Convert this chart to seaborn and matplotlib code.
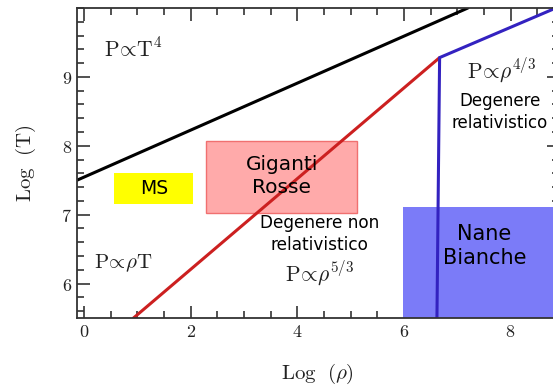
import matplotlib
matplotlib.use("Agg")
import matplotlib.pyplot as plt
from matplotlib.patches import Rectangle
from matplotlib.ticker import MultipleLocator
import seaborn as sns
import pandas as pd

# boundary lines (log rho, log T)
black_x = [-0.13, 7.2]
black_y = [7.5, 10.0]
red_x = [0.93, 6.67]
red_y = [5.5, 9.28]
blue_x = [6.62, 6.67, 8.85]
blue_y = [5.5, 9.28, 10.0]

# regions: (x0, y0, x1, y1)
ms_box = (0.57, 7.16, 2.05, 7.61)
giants_box = (2.29, 7.03, 5.13, 8.07)
wd_box = (5.98, 5.45, 9.2, 7.11)

xtick_vals = [0, 2, 4, 6, 8]
ytick_vals = [6, 7, 8, 9]

sns.set_style("ticks")
plt.rcParams["mathtext.fontset"] = "cm"
plt.rcParams["font.family"] = ["DejaVu Sans"]

fig = plt.figure(figsize=(5.53, 3.90), dpi=100)
ax = fig.add_axes([0.1392, 0.1846, 0.8708, 0.7949])

def box(b, **kw):
    ax.add_patch(Rectangle((b[0], b[1]), b[2] - b[0], b[3] - b[1], **kw))

box(ms_box, facecolor="#ffff00", edgecolor="none", zorder=1)
box(giants_box, facecolor="#ffaaaa", edgecolor="#f07070", lw=1, zorder=1)
box(wd_box, facecolor="#7b7bf8", edgecolor="none", zorder=1)

lines = [("k", black_x, black_y, "black"),
         ("r", red_x, red_y, "#cc2020"),
         ("b", blue_x, blue_y, "#3322c0")]
for name, xs, ys, c in lines:
    d = pd.DataFrame({"x": xs, "y": ys})
    sns.lineplot(data=d, x="x", y="y", sort=False, estimator=None,
                 color=c, lw=2.2, ax=ax, zorder=2)

ax.set_xlim(-0.13, 8.9)
ax.set_ylim(5.5, 10.0)
ax.set_xticks(xtick_vals)
ax.set_xticklabels([f"${v}$" for v in xtick_vals])
ax.set_yticks(ytick_vals)
ax.set_yticklabels([f"${v}$" for v in ytick_vals])
ax.xaxis.set_minor_locator(MultipleLocator(0.5))
ax.yaxis.set_minor_locator(MultipleLocator(0.2))
ax.tick_params(which="both", direction="in", top=True, right=True,
               width=1.2, color="#333333", labelsize=13, labelcolor="#222222")
ax.tick_params(which="major", length=9)
ax.tick_params(which="minor", length=5)
for s in ax.spines.values():
    s.set_linewidth(1.3)
    s.set_color("#333333")

ax.set_xlabel(r"$\mathrm{Log}\ \ (\rho)$", fontsize=15, labelpad=15,
              color="#222222")
ax.set_ylabel(r"$\mathrm{Log}\ \ (\mathrm{T})$", fontsize=15, labelpad=17,
              color="#222222")

ax.text(0.93, 9.41, r"$\mathrm{P}\!\propto\!\mathrm{T}^4$", fontsize=15.5,
        ha="center", va="center", color="#222222")
ax.text(0.74, 6.30, r"$\mathrm{P}\!\propto\!\rho\mathrm{T}$", fontsize=15,
        ha="center", va="center", color="#222222")
ax.text(4.42, 6.15, r"$\mathrm{P}\!\propto\!\rho^{5/3}$", fontsize=15.5,
        ha="center", va="center", color="#222222", zorder=4)
ax.text(7.83, 9.1, r"$\mathrm{P}\!\propto\!\rho^{4/3}$", fontsize=15.5,
        ha="center", va="center", color="#222222", zorder=4)

ax.text(1.31, 7.385, "MS", fontsize=13.5, ha="center", va="center",
        color="black", zorder=4)
ax.text(3.71, 7.56, "Giganti\nRosse", fontsize=14.5, ha="center",
        va="center", linespacing=1.3, color="black", zorder=4)
ax.text(4.42, 6.72, "Degenere non\nrelativistico", fontsize=12.2,
        ha="center", va="center", linespacing=1.25, color="black", zorder=4)
ax.text(7.8, 8.49, "Degenere\nrelativistico", fontsize=12,
        ha="center", va="center", linespacing=1.25, color="black", zorder=4)
ax.text(7.51, 6.55, "Nane\nBianche", fontsize=15, ha="center", va="center",
        linespacing=1.25, color="black", zorder=4)

fig.savefig("out.png", dpi=100)
